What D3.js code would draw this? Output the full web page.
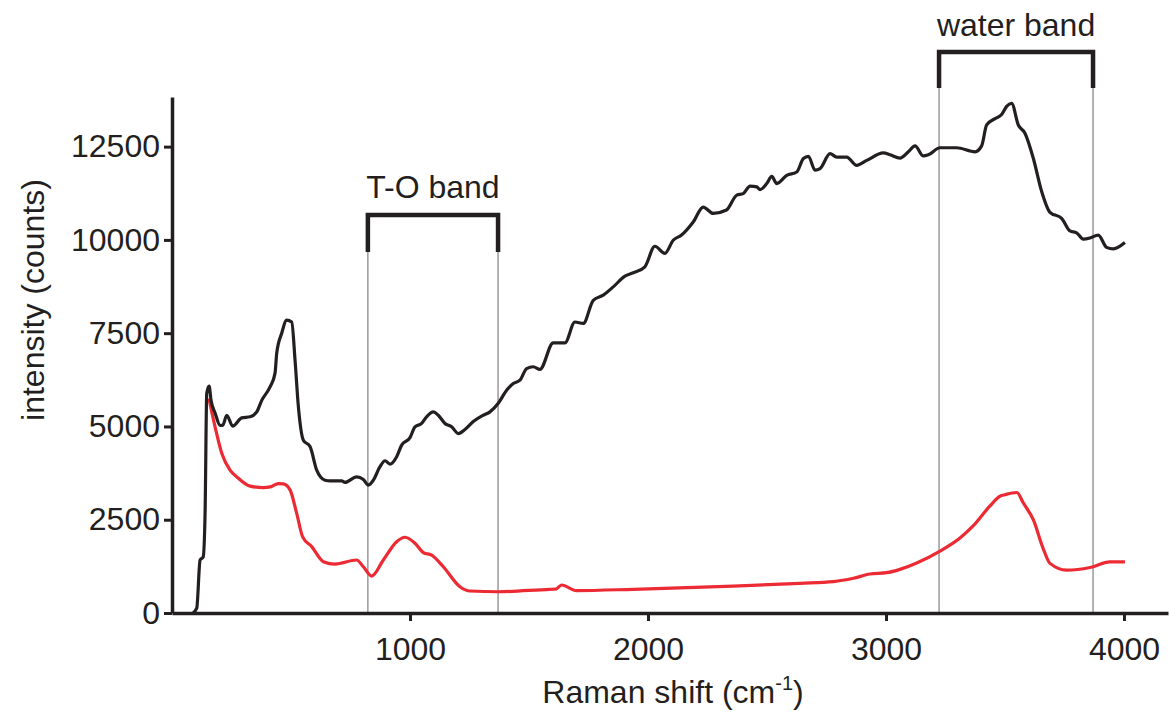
<!DOCTYPE html>
<html>
<head>
<meta charset="utf-8">
<script src="https://cdn.jsdelivr.net/npm/d3@7"></script>
<style>
  body { margin: 0; background: #fff; }
  svg { display: block; font-family: "Liberation Sans", Arial, sans-serif; }
</style>
</head>
<body>
<div id="chart"></div>
<script>
// spectrum 1 (black)
const blackShift = [88, 104, 118, 131, 139, 146, 156, 164, 181, 202, 213, 230, 255, 293, 328, 356, 377, 412, 433, 440,
  461, 482, 503, 517, 531, 552, 580, 608, 643, 664, 713, 727, 776, 804, 825, 846, 874, 895, 916, 944,
  965, 1000, 1021, 1049, 1070, 1098, 1119, 1147, 1175, 1203, 1231, 1266, 1308, 1336, 1371, 1406, 1434, 1462, 1490, 1518,
  1546, 1602, 1651, 1693, 1728, 1770, 1812, 1854, 1903, 1938, 1987, 2029, 2071, 2106, 2141, 2190, 2232, 2274, 2330, 2373,
  2400, 2429, 2457, 2471, 2499, 2520, 2541, 2583, 2625, 2653, 2674, 2702, 2723, 2765, 2793, 2835, 2877, 2919, 2989, 3017,
  3059, 3094, 3122, 3157, 3178, 3227, 3297, 3374, 3402, 3423, 3458, 3486, 3507, 3528, 3556, 3584, 3619, 3654, 3689, 3738,
  3773, 3801, 3829, 3857, 3892, 3927, 3955, 4004];
const blackCounts = [0, 130, 1420, 1500, 2680, 5890, 6080, 5700, 5360, 5030, 5030, 5300, 5010, 5230, 5260, 5390, 5700, 6060, 6430, 6960,
  7500, 7850, 7800, 6780, 5530, 4630, 4460, 3830, 3560, 3540, 3540, 3500, 3650, 3580, 3430, 3560, 3920, 4080, 3990, 4190,
  4500, 4700, 4990, 5080, 5260, 5390, 5300, 5080, 4990, 4810, 4920, 5130, 5300, 5390, 5620, 5970, 6150, 6240, 6550, 6600,
  6530, 7240, 7240, 7800, 7760, 8380, 8520, 8740, 9030, 9120, 9280, 9830, 9640, 9990, 10130, 10480, 10880, 10710, 10800, 11200,
  11240, 11440, 11420, 11350, 11510, 11700, 11510, 11730, 11820, 12180, 12240, 11870, 11910, 12310, 12220, 12220, 12000, 12130, 12330, 12280,
  12190, 12360, 12520, 12250, 12280, 12470, 12470, 12360, 12520, 13080, 13250, 13360, 13580, 13660, 13080, 12860, 12190, 11300, 10740, 10580,
  10240, 10190, 10020, 10050, 10130, 9800, 9760, 9930];

// spectrum 2 (red)
const redShift = [155, 181, 209, 244, 272, 328, 384, 412, 447, 468, 496, 524, 549, 587, 636, 685, 776, 804, 839, 888,
  944, 979, 1021, 1056, 1091, 1140, 1210, 1252, 1371, 1588, 1612, 1637, 1700, 1938, 2358, 2639, 2779, 2863, 2933, 3003,
  3059, 3129, 3227, 3311, 3367, 3437, 3479, 3500, 3550, 3577, 3619, 3661, 3689, 3759, 3857, 3941, 4004];
const redCounts = [5750, 4990, 4280, 3830, 3650, 3400, 3360, 3380, 3470, 3460, 3300, 2670, 2040, 1780, 1375, 1310, 1420, 1240, 990, 1420,
  1910, 2030, 1870, 1620, 1550, 1240, 705, 590, 570, 635, 640, 750, 600, 635, 720, 795, 840, 930, 1045, 1080,
  1170, 1340, 1660, 2010, 2340, 2870, 3130, 3170, 3230, 2950, 2500, 1720, 1330, 1150, 1220, 1370, 1370];

const xTicks = [1000, 2000, 3000, 4000];
const yTicks = [0, 2500, 5000, 7500, 10000, 12500];

const bandNames = ["T-O band", "water band"];
const bandStart = [823, 3223];
const bandEnd = [1370, 3870];

const width = 1170, height = 715;
const margin = { top: 97, right: 2, bottom: 102, left: 172 },
  innerW = width - margin.left - margin.right,
  innerH = height - margin.top - margin.bottom;

const ink = "#231f20";

const svg = d3
  .select("#chart")
  .append("svg")
  .attr("width", width)
  .attr("height", height)
  .append("g")
  .attr("transform", `translate(${margin.left}, ${margin.top})`);

const x = d3.scaleLinear().domain([0, 4185]).range([0, innerW]);
const y = d3.scaleLinear().domain([0, 13830]).range([innerH, 0]);

// band markers: thin guide lines + bracket + label
const bracketTop = [118, -45];   // px inside the plot group
const bracketLeg = [155, -9];
const labelBase = [101, -61];

bandNames.forEach(function (name, i) {
  const x0 = x(bandStart[i]), x1 = x(bandEnd[i]);
  [x0, x1].forEach(function (xx) {
    svg.append("line")
      .attr("x1", xx).attr("x2", xx)
      .attr("y1", bracketLeg[i]).attr("y2", innerH)
      .attr("stroke", "#8a8a8a")
      .attr("stroke-width", 1.3);
  });
  svg.append("path")
    .attr("d", `M${x0},${bracketLeg[i]}V${bracketTop[i]}H${x1}V${bracketLeg[i]}`)
    .attr("fill", "none")
    .attr("stroke", ink)
    .attr("stroke-width", 4.5)
    .attr("stroke-linejoin", "miter");
  svg.append("text")
    .attr("x", (x0 + x1) / 2)
    .attr("y", labelBase[i])
    .attr("text-anchor", "middle")
    .attr("font-size", 32)
    .attr("fill", ink)
    .text(name);
});

const line = d3
  .line()
  .x((d) => x(d[0]))
  .y((d) => y(d[1]))
  .curve(d3.curveMonotoneX);

svg.append("path")
  .datum(redShift.map((v, i) => [v, redCounts[i]]))
  .attr("fill", "none")
  .attr("stroke", "#ec2a33")
  .attr("stroke-width", 3.2)
  .attr("stroke-linejoin", "round")
  .attr("d", line);

svg.append("path")
  .datum(blackShift.map((v, i) => [v, blackCounts[i]]))
  .attr("fill", "none")
  .attr("stroke", ink)
  .attr("stroke-width", 3.2)
  .attr("stroke-linejoin", "round")
  .attr("d", line);

// axes
const xAxis = svg
  .append("g")
  .attr("transform", `translate(0, ${innerH})`)
  .call(d3.axisBottom(x).tickValues(xTicks).tickSize(8).tickSizeOuter(0).tickFormat(d3.format("d")));

const yAxis = svg
  .append("g")
  .call(d3.axisLeft(y).tickValues(yTicks).tickSize(8).tickPadding(4).tickSizeOuter(0).tickFormat(d3.format("d")));

[xAxis, yAxis].forEach(function (g) {
  g.select(".domain").attr("stroke", ink).attr("stroke-width", 3.5);
  g.selectAll(".tick line").attr("stroke", ink).attr("stroke-width", 3);
  g.selectAll(".tick text").attr("font-size", 32).attr("fill", ink).attr("font-family", null);
});
xAxis.selectAll(".tick text").attr("dy", null).attr("y", 47);

// axis titles
const xTitle = svg
  .append("text")
  .attr("x", 501)
  .attr("y", 606)
  .attr("text-anchor", "middle")
  .attr("font-size", 32)
  .attr("fill", ink)
  .text("Raman shift (cm");
xTitle.append("tspan").attr("font-size", 20).attr("dy", -13).text("-1");
xTitle.append("tspan").attr("dy", 13).text(")");

svg
  .append("text")
  .attr("transform", "rotate(-90)")
  .attr("x", -203)
  .attr("y", -128)
  .attr("text-anchor", "middle")
  .attr("font-size", 32)
  .attr("fill", ink)
  .text("intensity (counts)");
</script>
</body>
</html>
